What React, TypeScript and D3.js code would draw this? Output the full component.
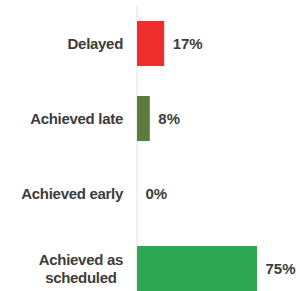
import React, { useEffect, useRef } from "react";
import * as d3 from "d3";

// chart data
const categories = ["Delayed", "Achieved late", "Achieved early", "Achieved as scheduled"];
const labelLines = [["Delayed"], ["Achieved late"], ["Achieved early"], ["Achieved as", "scheduled"]];
const values = [17, 8, 0, 75];
const colors = ["#ec2f2c", "#5d7d3d", "#4c9a48", "#2ea753"];

const width = 300;
const height = 291;

export default function App() {
  const ref = useRef<SVGSVGElement>(null);

  useEffect(() => {
    const svg = d3.select(ref.current);
    svg.selectAll("*").remove();

    const axisX = 137;
    const labelRight = 123;

    // x scale: 75% -> 120px
    const x = d3.scaleLinear().domain([0, 75]).range([axisX, axisX + 120]);
    const y = d3.scaleBand<string>().domain(categories).range([21, 291]).paddingInner(0.4).paddingOuter(0);

    // vertical baseline
    svg
      .append("line")
      .attr("x1", axisX)
      .attr("x2", axisX)
      .attr("y1", 5)
      .attr("y2", height)
      .attr("stroke", "#e2e2e2")
      .attr("stroke-width", 1);

    svg
      .selectAll("rect.bar")
      .data(values)
      .enter()
      .append("rect")
      .attr("class", "bar")
      .attr("x", x(0))
      .attr("y", (d, i) => y(categories[i])!)
      .attr("width", d => x(d) - x(0))
      .attr("height", y.bandwidth())
      .attr("fill", (d, i) => colors[i]);

    // value labels
    svg
      .selectAll("text.val")
      .data(values)
      .enter()
      .append("text")
      .attr("class", "val")
      .attr("x", d => x(d) + 8.5)
      .attr("y", (d, i) => y(categories[i])! + y.bandwidth() / 2)
      .attr("dy", "0.36em")
      .attr("font-family", "'Liberation Sans', Arial, sans-serif")
      .attr("font-weight", "bold")
      .attr("font-size", 15)
      .attr("fill", "#3c3c3c")
      .text(d => d + "%");

    // category labels (multi-line centered, right edge aligned)
    labelLines.forEach((lines, i) => {
      const cy = y(categories[i])! + y.bandwidth() / 2;
      const lh = 18;
      const g = svg.append("g");
      const texts = lines.map((line, j) =>
        g
          .append("text")
          .attr("y", cy + (j - (lines.length - 1) / 2) * lh)
          .attr("dy", "0.36em")
          .attr("text-anchor", "middle")
          .attr("font-family", "'Liberation Sans', Arial, sans-serif")
          .attr("font-weight", "bold")
          .attr("font-size", 15)
          .attr("letter-spacing", -0.3)
          .attr("fill", "#3c3c3c")
          .text(line)
      );
      const maxW = d3.max(texts, t => (t.node() as SVGTextElement).getComputedTextLength()) || 0;
      texts.forEach(t => t.attr("x", labelRight - maxW / 2));
    });
  }, []);

  return (
    <svg
      ref={ref}
      width={width}
      height={height}
      style={{ position: "absolute", left: 0, top: 0, background: "#fff" }}
    />
  );
}
